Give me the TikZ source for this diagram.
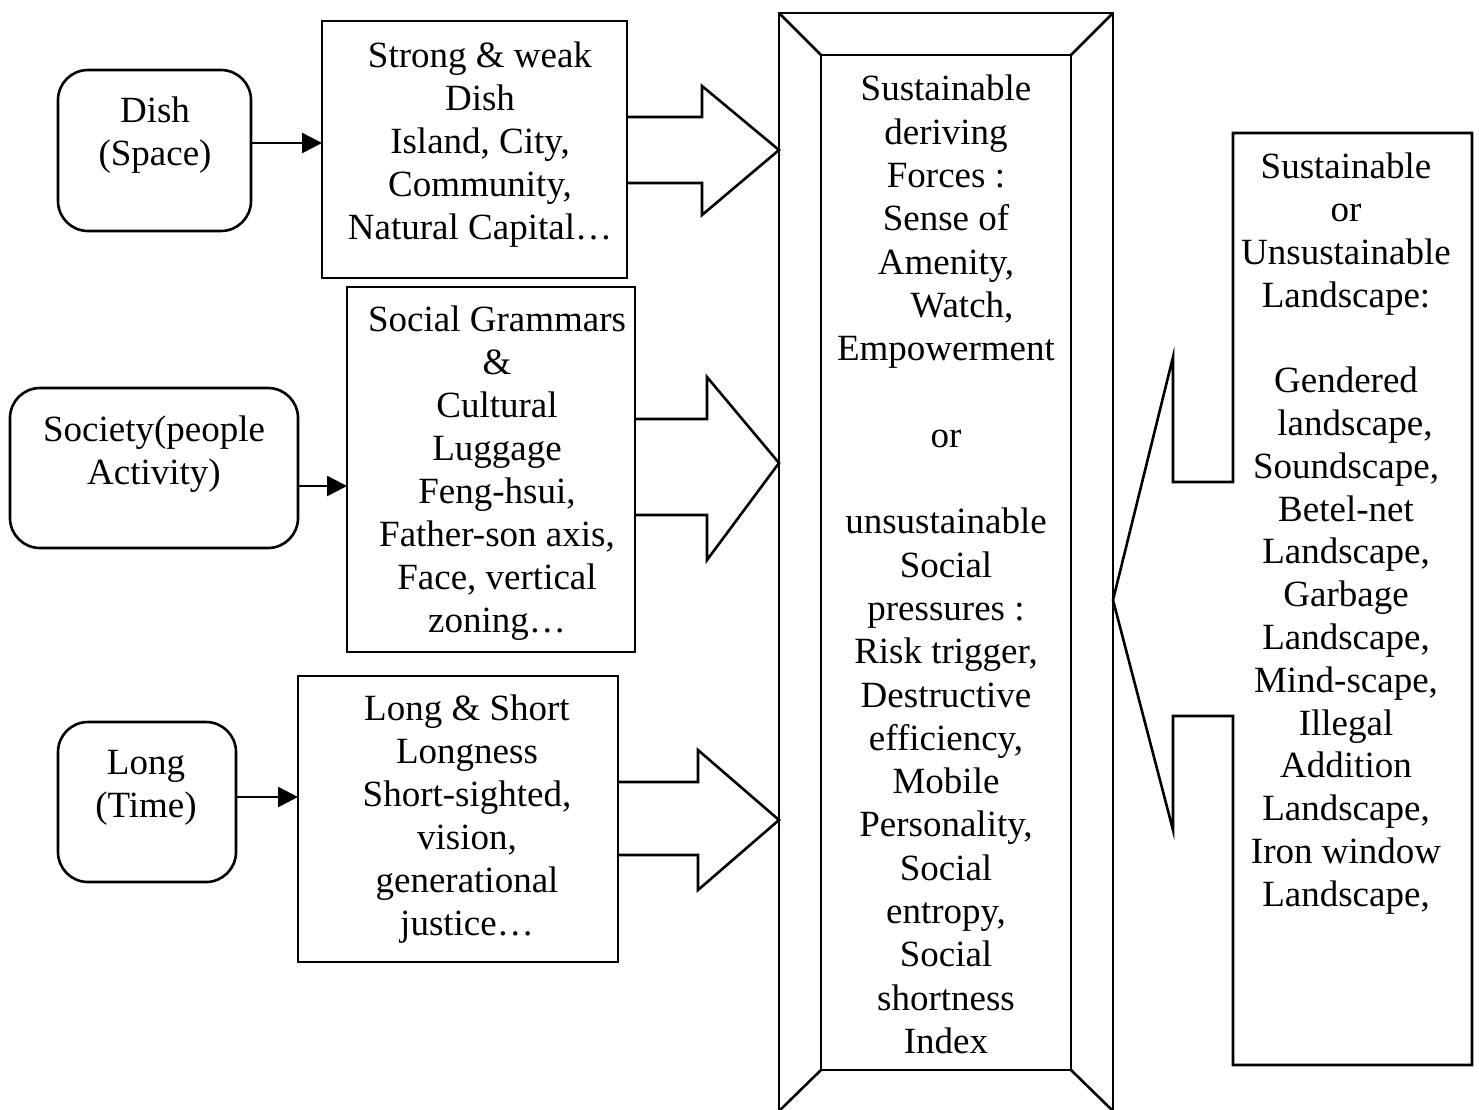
\documentclass[tikz,border=0pt]{standalone}
\usepackage{fontspec}
\setmainfont{Liberation Serif}
\usetikzlibrary{arrows.meta}

\begin{document}
\begin{tikzpicture}[x=1pt,y=-1pt,
  lw/.style={line width=2.6pt},
  frame/.style={draw, lw, outer sep=0pt, inner sep=0pt},
  roundbox/.style={frame, rounded corners=30pt},
  txt/.style={align=center, font=\fontsize{37}{43}\selectfont, inner sep=0pt},
  feed/.style={lw, -{Triangle[length=20pt,width=20pt]}},
  blockarrow/.style={lw, line join=miter},
]
\useasboundingbox (0,0) rectangle (1479,1109);

% source boxes on the left
\node[roundbox, minimum width=193pt, minimum height=161pt] (dish) at (154.5,150.5) {};
\node[roundbox, minimum width=288pt, minimum height=160pt] (society) at (154,468) {};
\node[roundbox, minimum width=178pt, minimum height=160pt] (long) at (147,802) {};

\node[txt] (dishT) at (155,135.5) {Dish\\(Space)};
\node[txt] (societyT) at (154,454) {Society(people\\Activity)};
\node[txt] (longT) at (146,787.5) {Long\\(Time)};

% middle boxes
\node[frame, minimum width=305pt, minimum height=257pt] (box1) at (474.5,149.5) {};
\node[frame, minimum width=288pt, minimum height=365pt] (box2) at (491,469.5) {};
\node[frame, minimum width=320pt, minimum height=286pt] (box3) at (458,819) {};

\node[txt] (box1T) at (480,144.5) {Strong \& weak\\Dish\\Island, City,\\Community,\\Natural Capital…};
\node[txt] (box2T) at (497,473) {Social Grammars\\\&\\Cultural\\Luggage\\Feng-hsui,\\Father-son axis,\\Face, vertical\\zoning…};
\node[txt] (box3T) at (467,819.5) {Long \& Short\\Longness\\Short-sighted,\\vision,\\generational\\justice…};

% small feed arrows
\draw[feed] (dish.east |- 0,143) -- (box1.west |- 0,143);
\draw[feed] (society.east |- 0,486) -- (box2.west |- 0,486);
\draw[feed] (long.east |- 0,797) -- (box3.west |- 0,797);

% bevelled central frame
\node[frame, minimum width=334pt, minimum height=1098pt] (outer) at (946,562) {};
\node[frame, minimum width=250pt, minimum height=1015pt] (inner) at (946,562.5) {};
\draw[lw] (outer.north west) -- (inner.north west);
\draw[lw] (outer.north east) -- (inner.north east);
\draw[lw] (outer.south west) -- (inner.south west);
\draw[lw] (outer.south east) -- (inner.south east);

\node[txt, font=\fontsize{37}{43.3}\selectfont] (centerT) at (946,564.5) {Sustainable\\deriving\\Forces :\\Sense of\\Amenity,\\\hspace*{32pt}Watch,\\Empowerment\\\mbox{}\\or\\\mbox{}\\unsustainable\\Social\\pressures :\\Risk trigger,\\Destructive\\efficiency,\\Mobile\\Personality,\\Social\\entropy,\\Social\\shortness\\Index};

% block arrows into the central frame
\draw[blockarrow] (box1.east |- 0,117) -- (702,117) -- (702,86) -- (outer.west |- 0,150)
  -- (702,215) -- (702,183) -- (box1.east |- 0,183);
\draw[blockarrow] (box2.east |- 0,419) -- (707,419) -- (707,377) -- (outer.west |- 0,463)
  -- (707,560) -- (707,515) -- (box2.east |- 0,515);
\draw[blockarrow] (box3.east |- 0,782) -- (698,782) -- (698,750) -- (outer.west |- 0,820)
  -- (698,890) -- (698,855) -- (box3.east |- 0,855);

% callout box on the right
\node[minimum width=239pt, minimum height=932pt, outer sep=0pt, inner sep=0pt] (rbox) at (1352.5,599) {};
\draw[lw, line join=miter] (rbox.west |- 0,482) -- (rbox.north west) -- (rbox.north east)
  -- (rbox.south east) -- (rbox.south west) -- (rbox.west |- 0,716) -- (1173,716)
  -- (1173,830) -- (outer.east |- 0,600) -- (1173,357) -- (1173,482) -- cycle;

\node[txt, font=\fontsize{37}{42.8}\selectfont] (rboxT) at (1346,533.5) {Sustainable\\or\\Unsustainable\\Landscape:\\\mbox{}\\Gendered\\\hspace*{18pt}landscape,\\Soundscape,\\Betel-net\\Landscape,\\Garbage\\Landscape,\\Mind-scape,\\Illegal\\Addition\\Landscape,\\Iron window\\Landscape,};
\end{tikzpicture}
\end{document}
